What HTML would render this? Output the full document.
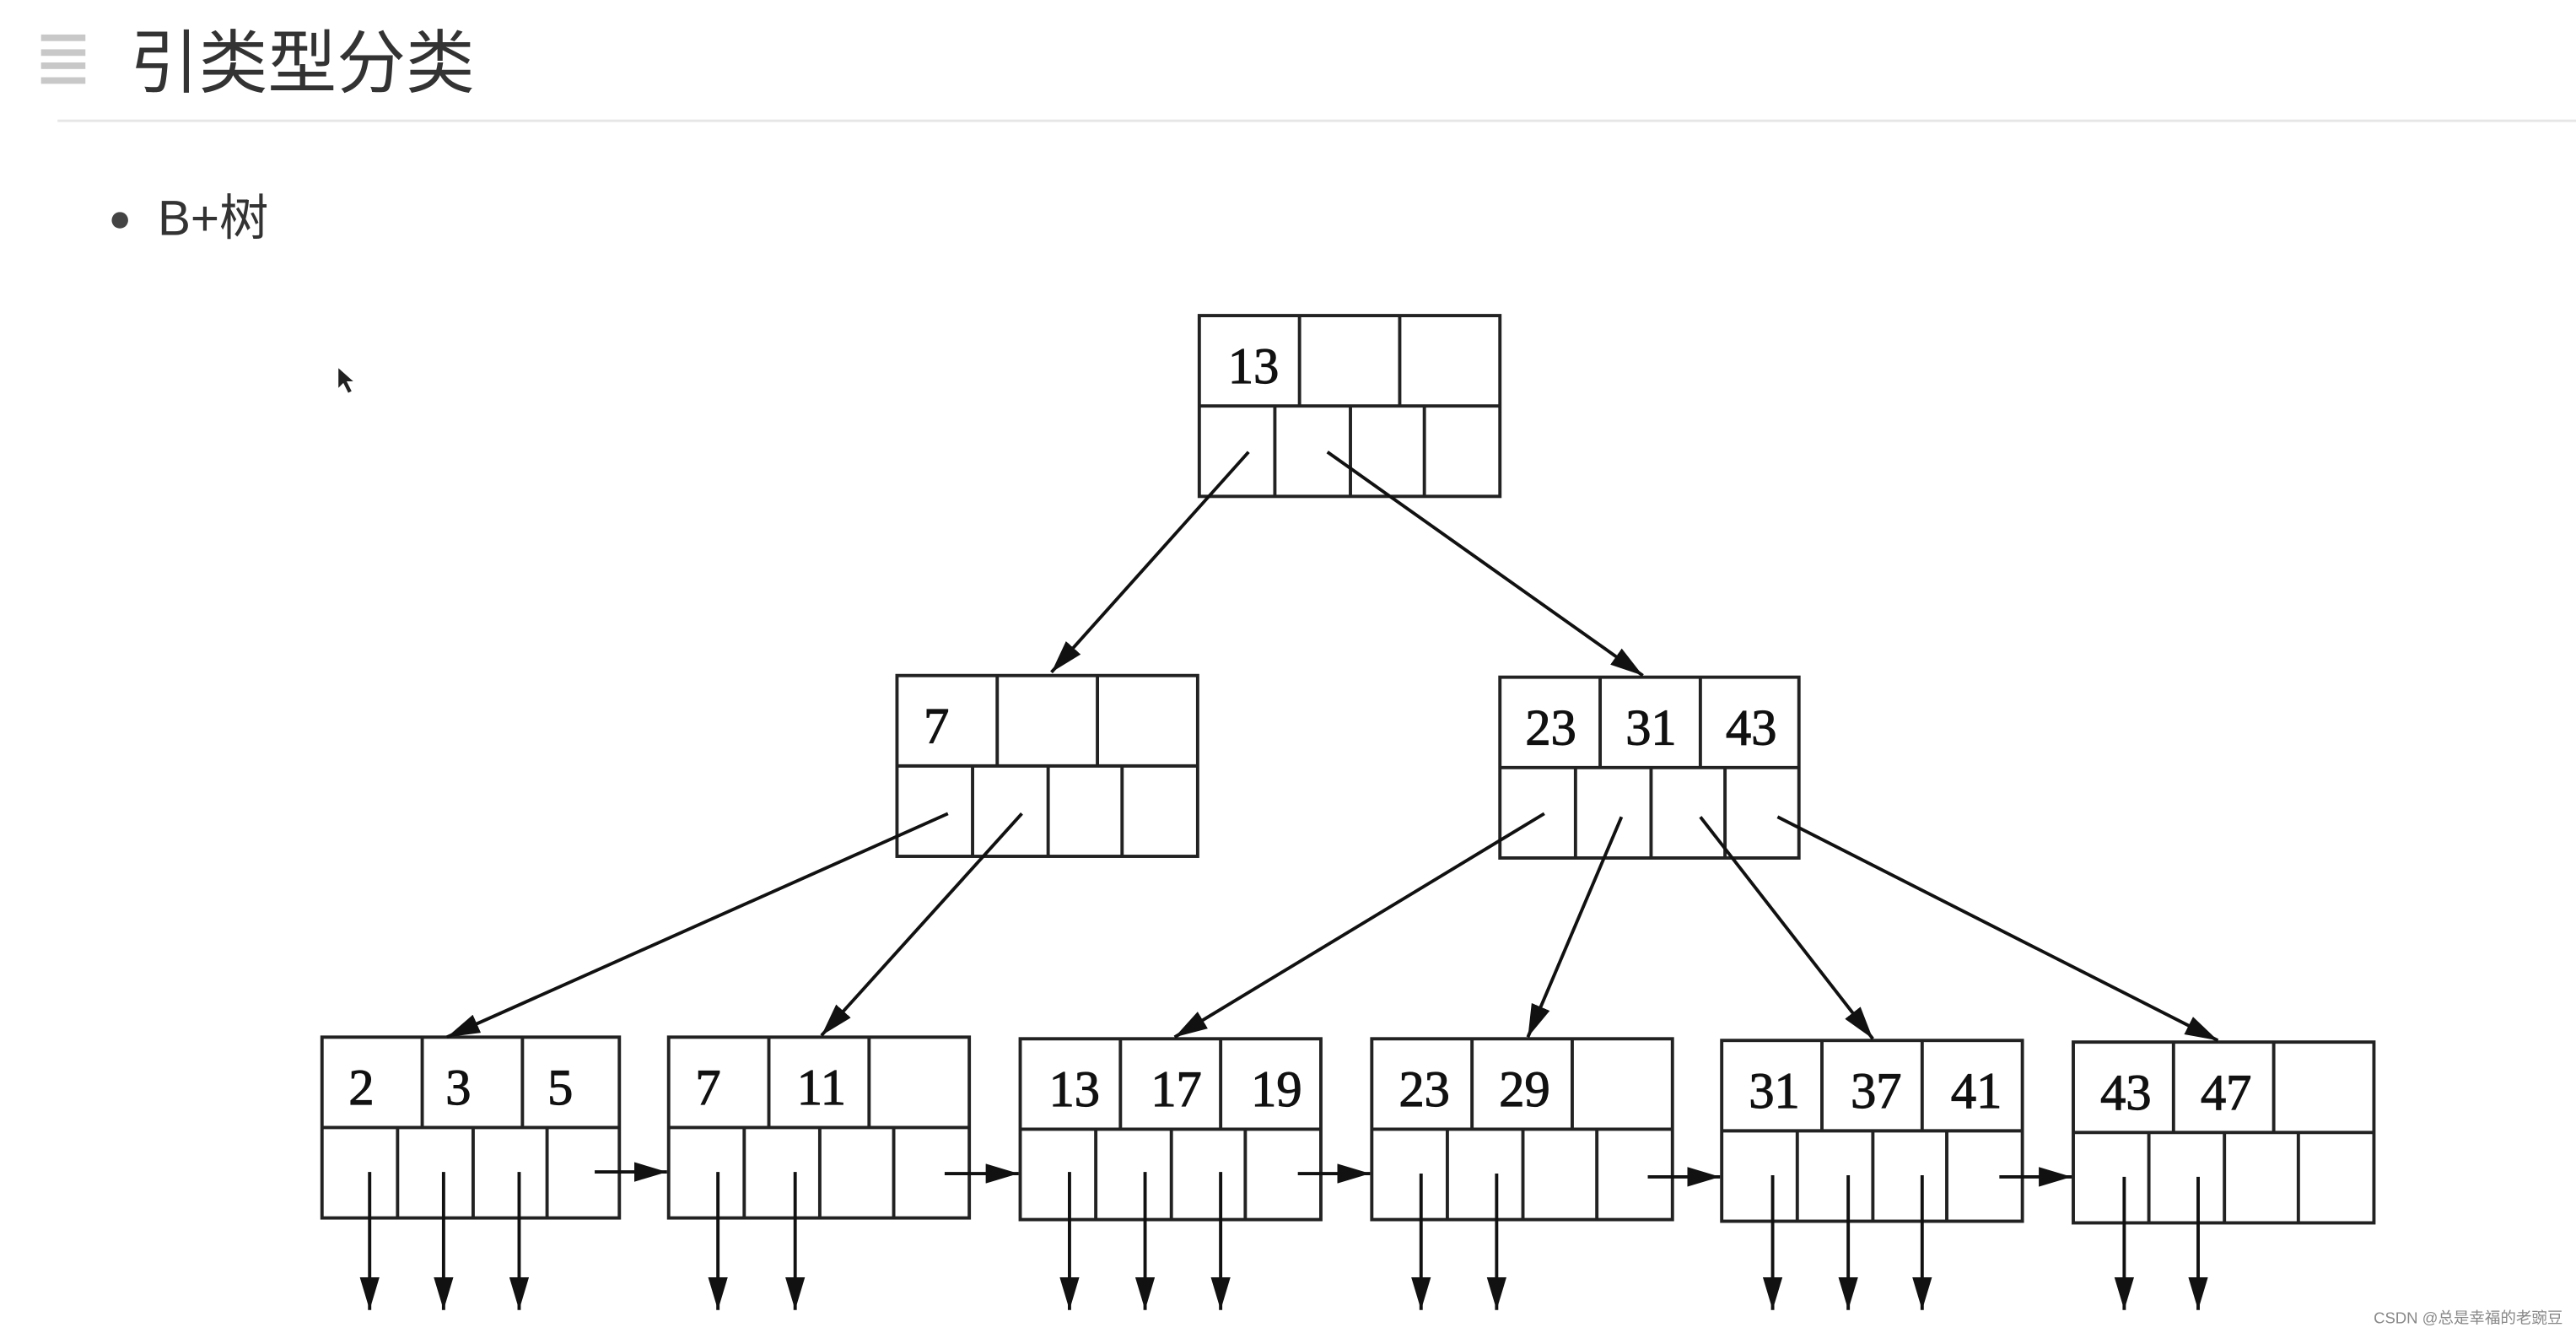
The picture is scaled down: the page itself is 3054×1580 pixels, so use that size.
<!DOCTYPE html>
<html><head><meta charset="utf-8"><style>
html,body{margin:0;padding:0;background:#fff;}
svg{display:block;}
</style></head><body>
<svg width="3054" height="1580" viewBox="0 0 1568 811" preserveAspectRatio="none" xmlns="http://www.w3.org/2000/svg">
<defs>
<marker id="ah2" viewBox="0 0 10 10" preserveAspectRatio="none" refX="10" refY="5" markerWidth="20" markerHeight="12" markerUnits="userSpaceOnUse" orient="auto">
<path d="M0,0 L10,5 L0,10 z" fill="#111"/></marker>
</defs>
<g fill="#c8c8c8"><rect x="25" y="21" width="27" height="4"/><rect x="25" y="30" width="27" height="4"/><rect x="25" y="38" width="27" height="4"/><rect x="25" y="47" width="27" height="4"/></g>
<text x="79" y="53" font-family="Liberation Sans, Noto Sans CJK SC, sans-serif" font-size="42" fill="#333">引类型分类</text>
<line x1="35" y1="73.5" x2="1568" y2="73.5" stroke="#e6e6e6" stroke-width="1.5"/>
<circle cx="73" cy="134" r="5" fill="#444"/>
<text x="96" y="143" font-family="Liberation Sans, Noto Sans CJK SC, sans-serif" font-size="30" fill="#333">B+树</text>
<path d="M206,224 L206,236 L209,233 L212,239 L214,238 L211,232 L215,232 z" fill="#222"/>
<text x="1560" y="805" text-anchor="end" font-family="Liberation Sans, Noto Sans CJK SC, sans-serif" font-size="9.5" fill="#888">CSDN @总是幸福的老豌豆</text>

<g fill="none" stroke="#222" stroke-width="2">
<g transform="translate(730,192)"><rect width="183" height="110"/><path d="M0,55H183M61,0V55M122,0V55M46,55V110M92,55V110M137,55V110"/></g>
<g transform="translate(546,411)"><rect width="183" height="110"/><path d="M0,55H183M61,0V55M122,0V55M46,55V110M92,55V110M137,55V110"/></g>
<g transform="translate(913,412)"><rect width="182" height="110"/><path d="M0,55H182M61,0V55M122,0V55M46,55V110M92,55V110M137,55V110"/></g>
<g transform="translate(196,631)"><rect width="181" height="110"/><path d="M0,55H181M61,0V55M122,0V55M46,55V110M92,55V110M137,55V110"/></g>
<g transform="translate(407,631)"><rect width="183" height="110"/><path d="M0,55H183M61,0V55M122,0V55M46,55V110M92,55V110M137,55V110"/></g>
<g transform="translate(621,632)"><rect width="183" height="110"/><path d="M0,55H183M61,0V55M122,0V55M46,55V110M92,55V110M137,55V110"/></g>
<g transform="translate(835,632)"><rect width="183" height="110"/><path d="M0,55H183M61,0V55M122,0V55M46,55V110M92,55V110M137,55V110"/></g>
<g transform="translate(1048,633)"><rect width="183" height="110"/><path d="M0,55H183M61,0V55M122,0V55M46,55V110M92,55V110M137,55V110"/></g>
<g transform="translate(1262,634)"><rect width="183" height="110"/><path d="M0,55H183M61,0V55M122,0V55M46,55V110M92,55V110M137,55V110"/></g>
</g>
<g stroke="#111" stroke-width="2" marker-end="url(#ah2)">
<line x1="760" y1="275" x2="640" y2="409"/>
<line x1="808" y1="275" x2="1000" y2="411"/>
<line x1="577" y1="495" x2="272" y2="631"/>
<line x1="622" y1="495" x2="500" y2="630"/>
<line x1="940" y1="495" x2="715" y2="631"/>
<line x1="987" y1="497" x2="930" y2="631"/>
<line x1="1035" y1="497" x2="1140" y2="632"/>
<line x1="1082" y1="497" x2="1350" y2="633"/>
<line x1="362" y1="713" x2="406" y2="713"/>
<line x1="575" y1="714" x2="620" y2="714"/>
<line x1="790" y1="714" x2="834" y2="714"/>
<line x1="1003" y1="716" x2="1047" y2="716"/>
<line x1="1217" y1="716" x2="1261" y2="716"/>
<line x1="225" y1="713" x2="225" y2="797"/>
<line x1="270" y1="713" x2="270" y2="797"/>
<line x1="316" y1="713" x2="316" y2="797"/>
<line x1="437" y1="713" x2="437" y2="797"/>
<line x1="484" y1="713" x2="484" y2="797"/>
<line x1="651" y1="713" x2="651" y2="797"/>
<line x1="697" y1="713" x2="697" y2="797"/>
<line x1="743" y1="713" x2="743" y2="797"/>
<line x1="865" y1="714" x2="865" y2="797"/>
<line x1="911" y1="714" x2="911" y2="797"/>
<line x1="1079" y1="715" x2="1079" y2="797"/>
<line x1="1125" y1="715" x2="1125" y2="797"/>
<line x1="1170" y1="715" x2="1170" y2="797"/>
<line x1="1293" y1="716" x2="1293" y2="797"/>
<line x1="1338" y1="716" x2="1338" y2="797"/>
</g>
<g font-family="Liberation Serif, serif" font-size="31" fill="#111" stroke="#111" stroke-width="0.6" text-anchor="middle">
<text x="763" y="233">13</text>
<text x="570" y="452">7</text>
<text x="944" y="453">23</text>
<text x="1005" y="453">31</text>
<text x="1066" y="453">43</text>
<text x="220" y="672">2</text>
<text x="279" y="672">3</text>
<text x="341" y="672">5</text>
<text x="431" y="672">7</text>
<text x="500" y="672">11</text>
<text x="654" y="673">13</text>
<text x="716" y="673">17</text>
<text x="777" y="673">19</text>
<text x="867" y="673">23</text>
<text x="928" y="673">29</text>
<text x="1080" y="674">31</text>
<text x="1142" y="674">37</text>
<text x="1203" y="674">41</text>
<text x="1294" y="675">43</text>
<text x="1355" y="675">47</text>
</g>
</svg>
</body></html>
